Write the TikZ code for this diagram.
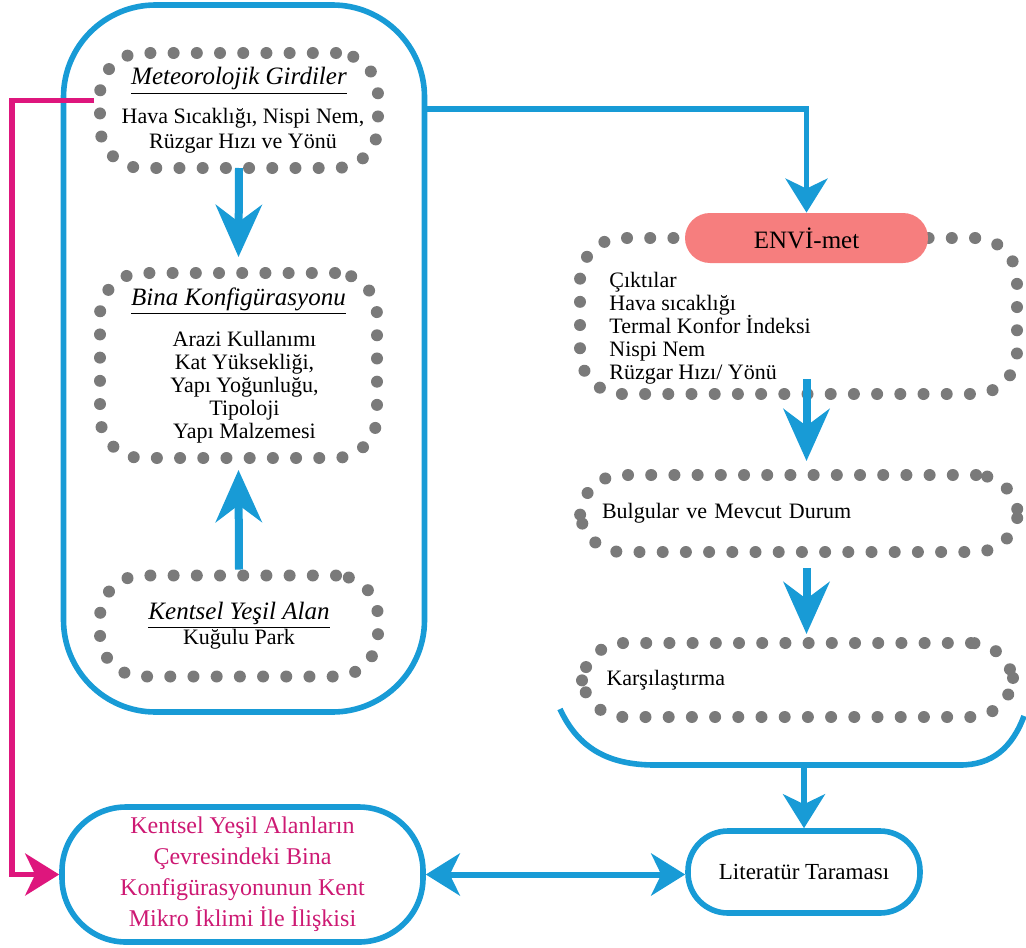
\documentclass[tikz,border=0pt]{standalone}
\usepackage{fontspec}
\setmainfont{Liberation Serif}
\usetikzlibrary{arrows.meta}

\definecolor{flowblue}{RGB}{24,155,214}
\definecolor{magline}{RGB}{222,22,125}
\definecolor{magtext}{RGB}{205,25,115}
\definecolor{dotgray}{RGB}{122,122,122}
\definecolor{envired}{RGB}{246,126,126}

\begin{document}
\begin{tikzpicture}[x=0.5pt,y=-0.5pt, every node/.style={align=center,inner sep=0pt},
    dotbox/.style={draw=dotgray,line width=6pt,line cap=round,dash pattern=on 0pt off 11.6pt,rounded corners=21pt},
    frame/.style={draw=flowblue,line width=2.8pt},
    bigarrow/.style={draw=flowblue,line width=4pt,-{Stealth[length=26pt,width=23pt,inset=8.5pt]}},
    smallarrow/.style={draw=flowblue,line width=2.6pt,-{Stealth[length=17pt,width=21pt,inset=5pt]}},
    magarrow/.style={draw=magline,line width=2.6pt,-{Stealth[length=17pt,width=21pt,inset=5pt]}},
    dblarrow/.style={draw=flowblue,line width=3pt,{Stealth[length=17pt,width=21pt,inset=5pt]}-{Stealth[length=17pt,width=21pt,inset=5pt]}},
    boxtext/.style={font=\fontsize{11}{11.5}\selectfont},
    titletext/.style={font=\fontsize{12.5}{14}\selectfont}]
  \useasboundingbox (0,0) rectangle (1026,947);
  % left column
  \node[frame,rounded corners=46pt,minimum width=180.5pt,minimum height=353.5pt] (inputs) at (244,358.5) {};
  \node[dotbox,minimum width=139pt,minimum height=57.5pt,font=\fontsize{11}{12.5}\selectfont] (meteo) at (239,110.5)
    {{\fontsize{12.5}{14}\selectfont\underline{\textit{Meteorolojik Girdiler}}}\\[7pt]\hspace{4pt}Hava Sıcaklığı, Nispi Nem,\\\hspace{4pt}Rüzgar Hızı ve Yönü};
  \node[dotbox,boxtext,minimum width=138.5pt,minimum height=92.5pt] (bina) at (238.5,365.5)
    {{\fontsize{12.5}{14}\selectfont\underline{\textit{Bina Konfigürasyonu}}}\\[7.5pt]\hspace{6pt}Arazi Kullanımı\\\hspace{6pt}Kat Yüksekliği,\\\hspace{6pt}Yapı Yoğunluğu,\\\hspace{6pt}Tipoloji\\\hspace{6pt}Yapı Malzemesi};
  \node[dotbox,minimum width=139pt,minimum height=50.5pt,font=\fontsize{11}{12.5}\selectfont] (park) at (239,626)
    {{\fontsize{12.5}{14}\selectfont\underline{\textit{Kentsel Yeşil Alan}}}\\Kuğulu Park};
  % right column
  \node[dotbox,minimum width=218.5pt,minimum height=78pt] (outbox) at (798.5,316) {};
  \node[fill=envired,rounded corners=12.5pt,minimum width=121.5pt,minimum height=25pt,titletext] (envi) at (806.5,238) {ENVİ-met};
  \node[boxtext,anchor=west,align=left] (outtxt) at (609,328)
    {Çıktılar\\Hava sıcaklığı\\Termal Konfor İndeksi\\Nispi Nem\\Rüzgar Hızı/ Yönü};
  \node[dotbox,boxtext,minimum height=38.5pt,text width=197pt,inner xsep=11pt,align=left] (bulg) at (799,513.5) {Bulgular ve Mevcut Durum};
  \node[dotbox,boxtext,minimum height=37pt,text width=191pt,inner xsep=12.25pt,align=left] (comp) at (797.5,680) {Karşılaştırma};
  \draw[frame] (560,709) .. controls (578,748) and (608,765) .. (655,765) -- (960,765) .. controls (992,765) and (1012,748) .. (1024,716);
  \coordinate (arcbot) at (804,765);
  % bottom row
  \node[frame,rounded corners=20pt,minimum width=116pt,minimum height=41pt,font=\fontsize{11.5}{13}\selectfont] (lit) at (804,872) {Literatür Taraması};
  \node[frame,rounded corners=32pt,minimum width=180.5pt,minimum height=67.5pt,text=magtext,font=\fontsize{12}{15.5}\selectfont] (goal) at (242.5,874.5)
    {Kentsel Yeşil Alanların\\Çevresindeki Bina\\Konfigürasyonunun Kent\\Mikro İklimi İle İlişkisi};
  % connectors
  \draw[bigarrow] ([yshift=3pt]meteo.south) -- ([yshift=5pt]bina.north);
  \draw[bigarrow] (park.north) -- ([yshift=-3pt]bina.south);
  \draw[smallarrow] (inputs.east |- 0,109) -| (envi.north);
  \draw[bigarrow] ([yshift=10.5pt]envi.south |- outbox.south) -- ([yshift=4pt]envi.south |- bulg.north);
  \draw[bigarrow] ([yshift=-5pt]envi.south |- bulg.south) -- ([yshift=1.5pt]envi.south |- comp.north);
  \draw[smallarrow] (arcbot) -- (lit.north);
  \draw[magarrow] ([yshift=5pt]meteo.west) -- ++(-82,0) |- (goal.west);
  \draw[dblarrow] (goal.east) -- (goal.east -| lit.west);
\end{tikzpicture}
\end{document}
